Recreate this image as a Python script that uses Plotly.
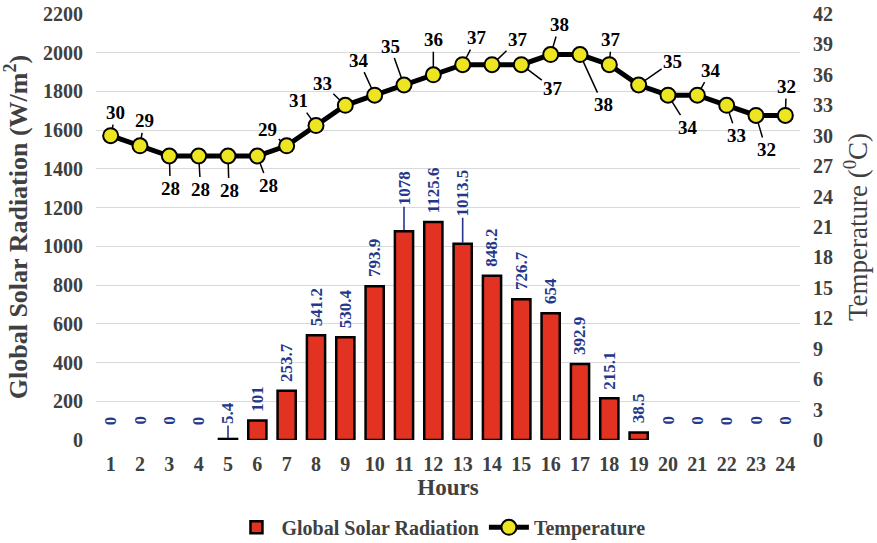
import plotly.graph_objects as go

# Hourly measurements
hours = list(range(1, 25))
radiation = [0, 0, 0, 0, 5.4, 101, 253.7, 541.2, 530.4, 793.9, 1078, 1125.6,
             1013.5, 848.2, 726.7, 654, 392.9, 215.1, 38.5, 0, 0, 0, 0, 0]
temperature = [30, 29, 28, 28, 28, 28, 29, 31, 33, 34, 35, 36,
               37, 37, 37, 38, 38, 37, 35, 34, 34, 33, 32, 32]
radiation_labels = ["0", "0", "0", "0", "5.4", "101", "253.7", "541.2", "530.4",
                    "793.9", "1078", "1125.6", "1013.5", "848.2", "726.7", "654",
                    "392.9", "215.1", "38.5", "0", "0", "0", "0", "0"]

FONT = "Liberation Serif, Times New Roman, serif"
GREY = "#404040"
NAVY = "#24378a"

# pixel offsets of the temperature labels from their markers
temp_label_offsets = [(5, -23), (4, -25), (1, 32), (2, 33), (1, 34), (11, 29),
                      (-19, -16), (-18, -25), (-23, -22), (-16, -35), (-14, -39),
                      (0, -35), (14, -27), (26, -25), (32, 24), (9, -30), (23, 50),
                      (2, -25), (34, -24), (20, 32), (14, -25), (10, 30), (10, 34),
                      (1, -29)]

fig = go.Figure()

# hours with no radiation have no visible bar (and no outline stub)
lit_hours = [h for h, v in zip(hours, radiation) if v > 0]
lit_values = [v for v in radiation if v > 0]

fig.add_trace(go.Bar(
    x=lit_hours, y=lit_values, name="Global Solar Radiation",
    width=0.62,
    marker=dict(color="#e23222", line=dict(color="black", width=2.5)),
    yaxis="y",
))

fig.add_trace(go.Scatter(
    x=hours, y=temperature, name="Temperature", mode="lines+markers",
    line=dict(color="black", width=5),
    marker=dict(size=15, color="#ede51f", line=dict(color="black", width=2)),
    yaxis="y2",
))

annotations = []

# radiation value labels (rotated), leader lines for the crowded ones
for h, v, txt in zip(hours, radiation, radiation_labels):
    if txt in ("1078", "1013.5", "5.4"):
        lift = {"1078": -43, "1013.5": -51, "5.4": -26}[txt]
        annotations.append(dict(
            x=h, y=v, xref="x", yref="y", text=txt, textangle=-90,
            showarrow=True, arrowhead=0, arrowwidth=1.6, arrowcolor=NAVY,
            ax=0, ay=lift, standoff=1,
            font=dict(family=FONT, size=17, color=NAVY, weight="bold"),
        ))
    else:
        annotations.append(dict(
            x=h, y=v, xref="x", yref="y", text=txt, textangle=-90,
            showarrow=False, yanchor="bottom", yshift=13 if v == 0 else 7,
            font=dict(family=FONT, size=17, color=NAVY, weight="bold"),
        ))

# temperature value labels with leader lines
for h, t, (dx, dy) in zip(hours, temperature, temp_label_offsets):
    annotations.append(dict(
        x=h, y=t, xref="x", yref="y2", text=str(t),
        showarrow=True, arrowhead=0, arrowwidth=1.5, arrowcolor="black",
        ax=dx, ay=dy, standoff=7,
        font=dict(family=FONT, size=19, color="black", weight="bold"),
    ))

fig.update_layout(
    width=877, height=543,
    margin=dict(l=96, r=77, t=14, b=103, autoexpand=False),
    paper_bgcolor="white", plot_bgcolor="white",
    font=dict(family=FONT, color=GREY),
    showlegend=True,
    legend=dict(
        orientation="h", x=0.49, xanchor="center", y=-0.205, yanchor="middle",
        font=dict(family=FONT, size=20, color=GREY, weight="bold"),
        itemwidth=40, tracegroupgap=0,
    ),
    xaxis=dict(
        range=[0.5, 24.5], tickmode="array", tickvals=hours,
        ticktext=[str(h) for h in hours], showgrid=False, zeroline=False,
        ticks="", ticklabelstandoff=10, automargin=False,
        tickfont=dict(family=FONT, size=20, color=GREY, weight="bold"),
        title=dict(text="Hours", standoff=4,
                   font=dict(family=FONT, size=23, color=GREY, weight="bold")),
    ),
    yaxis=dict(
        range=[0, 2200], dtick=200, showgrid=True, gridcolor="#d9d9d9",
        gridwidth=1, zeroline=False, ticks="", ticklabelstandoff=12,
        automargin=False,
        tickfont=dict(family=FONT, size=20, color=GREY, weight="bold"),
        title=dict(text="Global Solar Radiation (W/m<sup>2</sup>)", standoff=10,
                   font=dict(family=FONT, size=26, color=GREY, weight="bold")),
    ),
    yaxis2=dict(
        range=[0, 42], dtick=3, overlaying="y", side="right", showgrid=False,
        zeroline=False, ticks="", ticklabelstandoff=12, automargin=False,
        tickfont=dict(family=FONT, size=20, color=GREY, weight="bold"),
        title=dict(text="Temperature (<sup>0</sup>C)", standoff=16,
                   font=dict(family=FONT, size=27, color=GREY)),
    ),
    annotations=annotations,
)

fig.write_html("out.html")
